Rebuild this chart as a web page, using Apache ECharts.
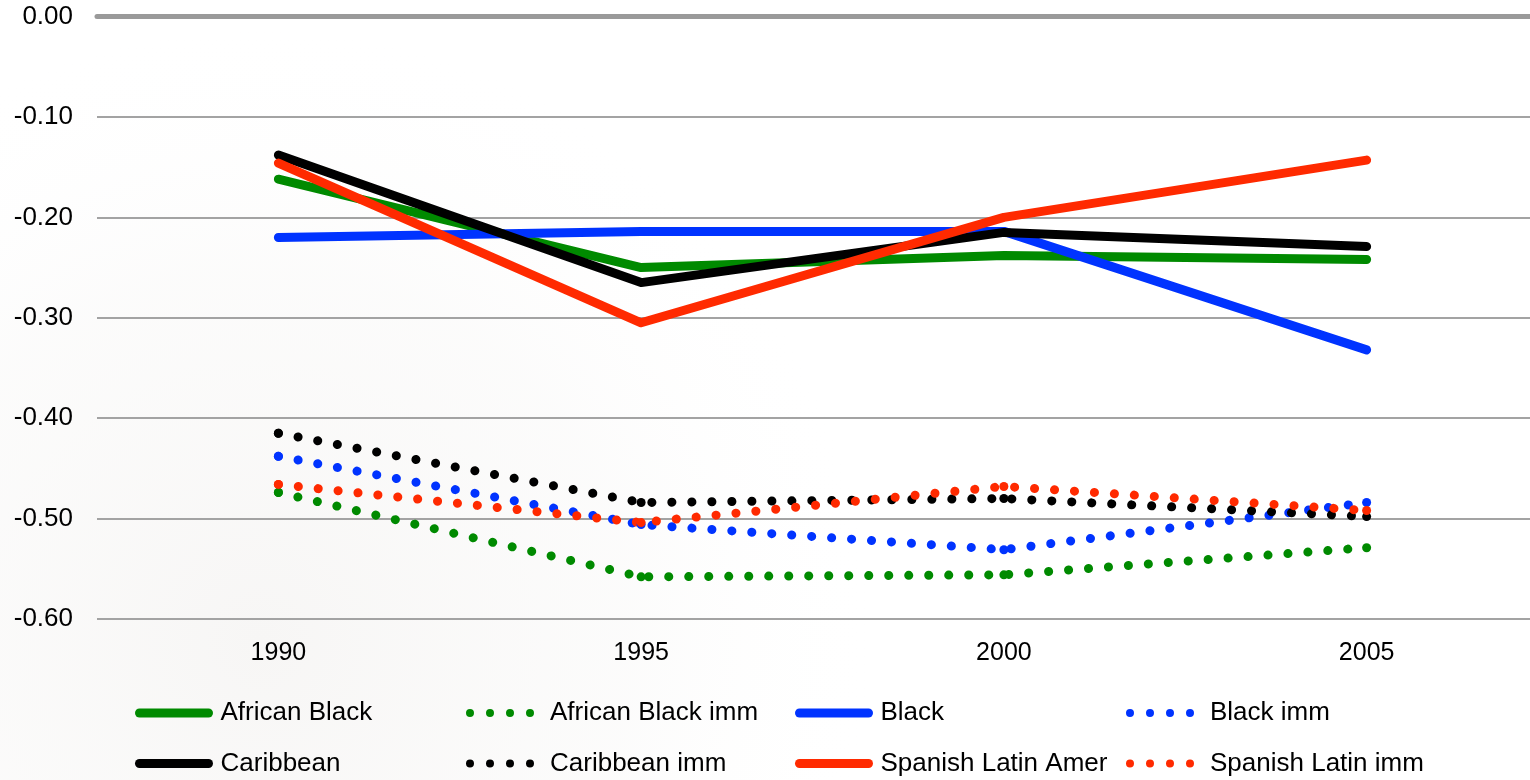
<!DOCTYPE html>
<html>
<head>
<meta charset="utf-8">
<script src="https://cdn.jsdelivr.net/npm/echarts@6/dist/echarts.min.js"></script>
<style>
  html, body { margin: 0; padding: 0; background: #ffffff; }
  #chart { width: 1530px; height: 780px; }
</style>
</head>
<body>
<div id="chart"></div>
<script>
// Years on the category axis
const years = ['1990', '1995', '2000', '2005'];
const yTicks = [0, -0.1, -0.2, -0.3, -0.4, -0.5, -0.6];

// Group values (solid lines)
const africanBlack     = [-0.162, -0.250, -0.238, -0.242];
const black            = [-0.220, -0.214, -0.214, -0.332];
const caribbean        = [-0.138, -0.265, -0.215, -0.229];
const spanishLatinAmer = [-0.146, -0.305, -0.200, -0.143];

// Immigrant values (dotted lines)
const africanBlackImm  = [-0.474, -0.558, -0.556, -0.529];
const blackImm         = [-0.438, -0.506, -0.531, -0.484];
const caribbeanImm     = [-0.415, -0.484, -0.480, -0.498];
const spanishLatinImm  = [-0.466, -0.504, -0.468, -0.492];

const GREEN = '#008a00', BLUE = '#0033ff', BLK = '#000000', RED = '#ff2a00';
const FONT = '"Liberation Sans", Arial, sans-serif';

// four round dots used as the legend key of the dotted series
const DOTS_ICON = 'path://' + [4, 24, 44, 64].map(c =>
  `M${c - 4},4a4,4 0 1,0 8,0a4,4 0 1,0 -8,0z`).join('');

function solid(name, data, color) {
  return {
    name, type: 'line', data, symbol: 'none', showSymbol: false,
    lineStyle: { color, width: 9, cap: 'round', join: 'round' },
    itemStyle: { color },
    emphasis: { disabled: true }, animation: false
  };
}
function dotted(name, data, color) {
  return {
    name, type: 'line', data,
    symbol: 'circle', symbolSize: 9, showSymbol: true,
    lineStyle: { color, width: 9, type: [0.1, 19.9], cap: 'round', join: 'round' },
    itemStyle: { color, borderWidth: 0 },
    emphasis: { disabled: true }, animation: false
  };
}

// one legend block per entry, laid out as a 4 x 2 table
function legendItem(colLeft, top, name, isDotted) {
  const base = {
    top, padding: 0, selectedMode: false, itemHeight: 8,
    textStyle: { fontFamily: FONT, fontSize: 26, color: '#000', lineHeight: 26 }
  };
  if (isDotted) {
    return Object.assign(base, {
      left: colLeft + 1, itemWidth: 68,
      data: [{ name, icon: DOTS_ICON }],
      textStyle: Object.assign({}, base.textStyle, { padding: [6, 0, 0, 11] })
    });
  }
  return Object.assign(base, {
    left: colLeft, itemWidth: 69,
    data: [name],
    lineStyle: { width: 'inherit', type: 'solid', cap: 'round' },
    textStyle: Object.assign({}, base.textStyle, { padding: [6, 0, 0, 7] })
  });
}

const chart = echarts.init(document.getElementById('chart'), null, { renderer: 'canvas' });
chart.setOption({
  backgroundColor: '#ffffff',
  animation: false,
  graphic: [
    {
      type: 'circle', z: -10, silent: true,
      shape: { cx: 260, cy: 640, r: 620 },
      style: {
        fill: {
          type: 'radial', x: 0.5, y: 0.5, r: 0.5,
          colorStops: [
            { offset: 0, color: 'rgba(215,210,205,0.20)' },
            { offset: 0.6, color: 'rgba(225,222,218,0.10)' },
            { offset: 1, color: 'rgba(255,255,255,0)' }
          ]
        }
      }
    }
  ],
  grid: { left: 97, right: -18, top: 16.5, bottom: 161, outerBoundsMode: 'none', containLabel: false },
  xAxis: [
    {
      type: 'category', data: years, position: 'bottom', boundaryGap: true,
      axisLine: { show: false }, axisTick: { show: false },
      axisLabel: { fontFamily: FONT, fontSize: 25, color: '#000', margin: 22 }
    },
    {
      type: 'category', data: years, position: 'top', boundaryGap: true,
      axisLine: { show: true, onZero: false, lineStyle: { color: '#9a9a9a', width: 5 } },
      axisTick: { show: false }, axisLabel: { show: false }
    }
  ],
  yAxis: {
    type: 'value', min: -0.6, max: 0, interval: 0.1,
    axisLine: { show: false }, axisTick: { show: false },
    splitLine: { lineStyle: { color: '#a3a3a3', width: 2 } },
    axisLabel: {
      fontFamily: FONT, fontSize: 26, color: '#000', margin: 24,
      padding: [6, 0, 0, 0],
      formatter: v => {
        const t = yTicks.find(k => Math.abs(k - v) < 1e-9);
        return (t === undefined ? v : t).toFixed(2).replace('-0.00', '0.00');
      }
    }
  },
  legend: [
    legendItem(135, 697, 'African Black', false),
    legendItem(465, 697, 'African Black imm', true),
    legendItem(795, 697, 'Black', false),
    legendItem(1125, 697, 'Black imm', true),
    legendItem(135, 747.5, 'Caribbean', false),
    legendItem(465, 747.5, 'Caribbean imm', true),
    legendItem(795, 747.5, 'Spanish Latin Amer', false),
    legendItem(1125, 747.5, 'Spanish Latin imm', true)
  ],
  series: [
    dotted('African Black imm', africanBlackImm, GREEN),
    dotted('Black imm', blackImm, BLUE),
    dotted('Caribbean imm', caribbeanImm, BLK),
    dotted('Spanish Latin imm', spanishLatinImm, RED),
    solid('African Black', africanBlack, GREEN),
    solid('Black', black, BLUE),
    solid('Caribbean', caribbean, BLK),
    solid('Spanish Latin Amer', spanishLatinAmer, RED)
  ]
});
</script>
</body>
</html>
